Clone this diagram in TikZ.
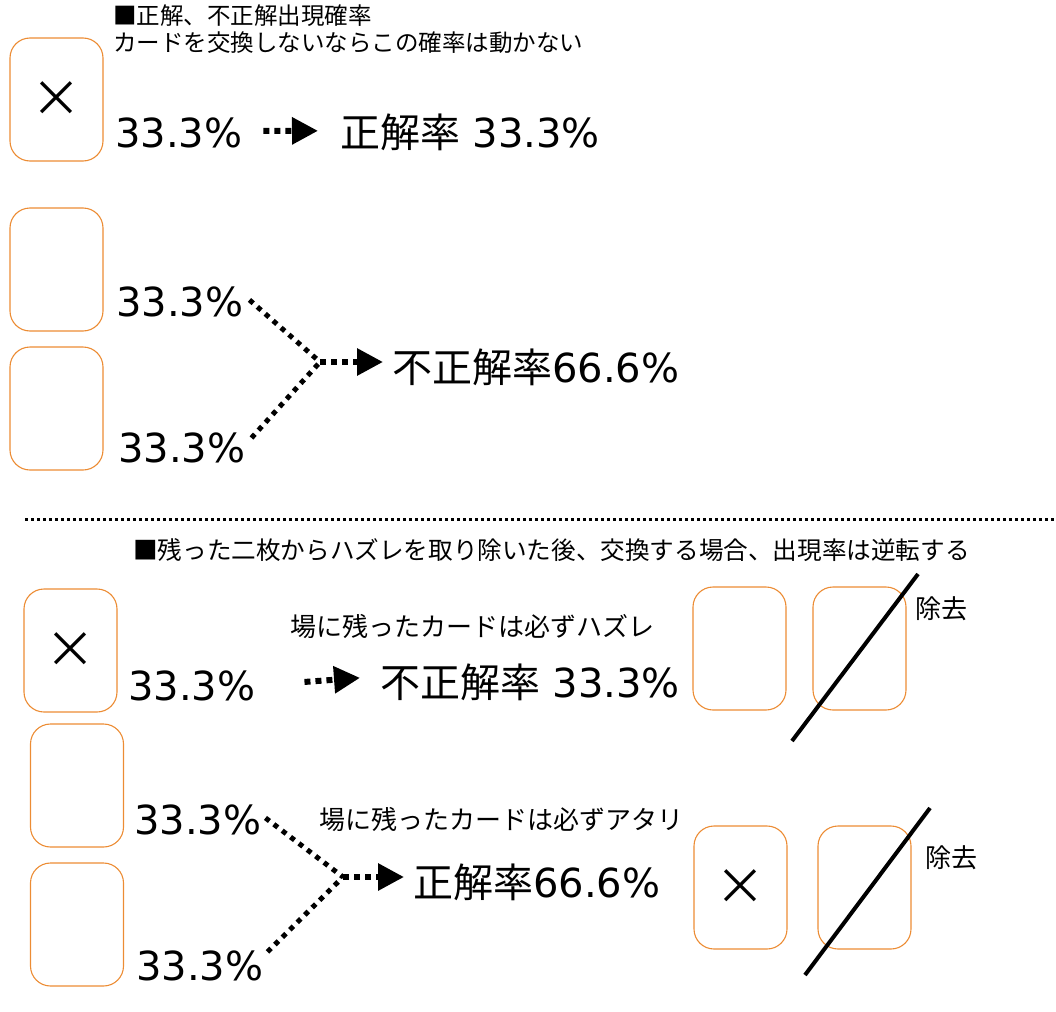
\documentclass[tikz,border=0pt]{standalone}
\usepackage{fontspec}
\setmainfont{DejaVu Sans}
\newfontfamily\cjk{Noto Sans CJK JP}
\usetikzlibrary{arrows.meta}
\definecolor{cardorange}{RGB}{236,140,52}
\begin{document}
\begin{tikzpicture}[x=1pt,y=-1pt,
  card/.style={draw=cardorange, line width=1.1pt, rounded corners=20pt,
    minimum width=93pt, minimum height=123pt, inner sep=0pt,
    font=\cjk\fontsize{50}{50}\selectfont},
  big/.style={anchor=base west, inner sep=0pt, font=\fontsize{40}{48}\selectfont},
  head/.style={anchor=base west, inner sep=0pt, font=\cjk\fontsize{23.5}{28}\selectfont},
  lab/.style={anchor=base west, inner sep=0pt, font=\cjk\fontsize{26}{30}\selectfont},
  dotarrow/.style={line width=6pt, dash pattern=on 6pt off 5pt, -{Triangle[length=26pt,width=26pt]}},
  dotline/.style={line width=5pt, dash pattern=on 5pt off 5.5pt},
  slash/.style={line width=4pt},
  sep/.style={line width=3pt, dash pattern=on 3pt off 3pt}
]
\useasboundingbox (0,0) rectangle (1056,1011);

% ---------- upper section ----------
\node[head] (h1) at (113,24.5) {■正解、不正解出現確率};
\node[head] (h2) at (113,52) {カードを交換しないならこの確率は動かない};

\node[card] (c1) at (56.5,99.5) {×};
\node[card] (c2) at (56.5,269.5) {};
\node[card] (c3) at (56.5,408.5) {};

\node[big] (pa) at (115,147.5) {33.3\%};
\node[big] (ra) at (340,148) {{\cjk 正解率} 33.3\%};
\draw[dotarrow] ([xshift=21pt,yshift=2pt]pa.east) -- ([xshift=-22pt,yshift=2pt]ra.west);

\node[big] (p2) at (116,316.5) {33.3\%};
\node[big] (p3) at (118,462.5) {33.3\%};
\node[big] (r2) at (392,382) {{\cjk 不正解率}66.6\%};
\coordinate (j1) at (320,362);
\draw[dotline] ([xshift=6pt,yshift=2pt]p2.east) -- (j1);
\draw[dotline] ([xshift=6pt,yshift=10pt]p3.east) -- (j1);
\draw[dotarrow] (j1) -- ([xshift=-9pt]r2.west |- j1);

% ---------- separator ----------
\coordinate (sepL) at (25,519);
\coordinate (sepR) at (1056,519);
\draw[sep] (sepL) -- (sepR);

% ---------- lower section ----------
\node[lab, font=\cjk\fontsize{24.6}{30}\selectfont] (h3) at (133,559) {■残った二枚からハズレを取り除いた後、交換する場合、出現率は逆転する};

\node[card] (c4) at (70.5,650.5) {×};
\node[card] (c5) at (77,785.5) {};
\node[card] (c6) at (77,924.5) {};

\node[big] (p4) at (128,700.5) {33.3\%};
\node[big] (r4) at (380,697) {{\cjk 不正解率} 33.3\%};
\node[lab] (l1) at (290,636) {場に残ったカードは必ずハズレ};
\draw[dotarrow] ([xshift=49pt,yshift=4pt]p4.east) -- ([xshift=-20pt,yshift=4pt]r4.west);

\node[card] (c7) at (739.5,648.5) {};
\node[card] (c8) at (859.5,648.5) {};
\coordinate (s1a) at (792,741);
\coordinate (s1b) at (918,574);
\draw[slash] (s1a) -- (s1b);
\node[lab] (x1) at (915,618) {除去};

\node[big] (p5) at (134,834.5) {33.3\%};
\node[big] (p6) at (136,980.5) {33.3\%};
\node[lab] (l2) at (319,829) {場に残ったカードは必ずアタリ};
\node[big] (r5) at (413,897) {{\cjk 正解率}66.6\%};
\coordinate (j2) at (343,877);
\draw[dotline] ([xshift=4pt,yshift=2pt]p5.east) -- (j2);
\draw[dotline] ([xshift=4pt,yshift=14pt]p6.east) -- (j2);
\draw[dotarrow] (j2) -- ([xshift=-9pt]r5.west |- j2);

\node[card] (c9) at (740.5,887.5) {×};
\node[card] (c10) at (864.5,887.5) {};
\coordinate (s2a) at (805,975);
\coordinate (s2b) at (930,808);
\draw[slash] (s2a) -- (s2b);
\node[lab] (x2) at (925,867) {除去};
\end{tikzpicture}
\end{document}
